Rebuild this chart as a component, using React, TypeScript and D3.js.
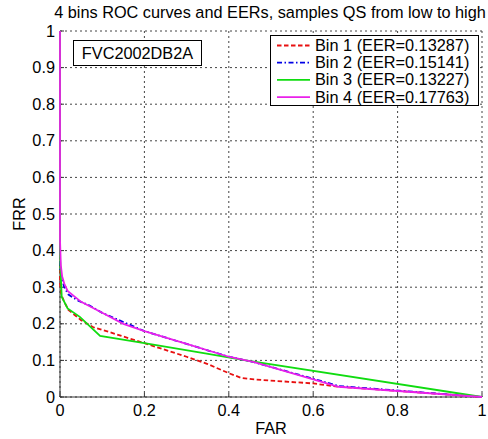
import React from "react";
import * as d3 from "d3";

const W = 488;
const H = 439;

const title = "4 bins ROC curves and EERs, samples QS from low to high";
const xLabel = "FAR";
const yLabel = "FRR";
const datasetLabel = "FVC2002DB2A";
const xTicks = [0, 0.2, 0.4, 0.6, 0.8, 1];
const yTicks = [0, 0.1, 0.2, 0.3, 0.4, 0.5, 0.6, 0.7, 0.8, 0.9, 1];
const tickLabels = (v: number) => String(v);

const seriesNames = [
  "Bin 1 (EER=0.13287)",
  "Bin 2 (EER=0.15141)",
  "Bin 3 (EER=0.13227)",
  "Bin 4 (EER=0.17763)",
];

// [FAR, FRR]
const bin1: [number, number][] = [
  [0, 1], [0, 0.31], [0.003, 0.28], [0.01, 0.26], [0.02, 0.238], [0.05, 0.21],
  [0.08, 0.19], [0.11, 0.18], [0.2, 0.147], [0.3, 0.11], [0.35, 0.09],
  [0.4, 0.065], [0.43, 0.052], [0.46, 0.048], [0.6, 0.037], [0.66, 0.028], [1, 0],
];
const bin2: [number, number][] = [
  [0, 1], [0, 0.35], [0.003, 0.33], [0.01, 0.3], [0.02, 0.28], [0.04, 0.265],
  [0.07, 0.25], [0.1, 0.23], [0.15, 0.205], [0.2, 0.18], [0.3, 0.145],
  [0.4, 0.11], [0.46, 0.095], [0.6, 0.05], [0.66, 0.03], [1, 0],
];
const bin3: [number, number][] = [
  [0, 1], [0, 0.383], [0.004, 0.274], [0.018, 0.242], [0.047, 0.219],
  [0.095, 0.167], [0.2, 0.147], [0.344, 0.119], [0.44, 0.1], [1, 0],
];
const bin4: [number, number][] = [
  [0, 1], [0, 0.43], [0.002, 0.36], [0.005, 0.33], [0.01, 0.31], [0.018, 0.29],
  [0.05, 0.26], [0.1, 0.23], [0.15, 0.2], [0.2, 0.18], [0.3, 0.145],
  [0.4, 0.11], [0.46, 0.095], [0.6, 0.048], [0.66, 0.028], [1, 0],
];

const seriesData = [bin1, bin2, bin3, bin4];
const seriesColors = ["#e81010", "#0000e6", "#10dc10", "#ea20ea"];
const seriesDash = ["4.5,2.5", "5,2.5,1.5,2.5", "", ""];

export default function App() {
  const left = 60, right = 482, top = 31, bottom = 397;
  const x = d3.scaleLinear().domain([0, 1]).range([left, right]);
  const y = d3.scaleLinear().domain([0, 1]).range([bottom, top]);
  const line = d3
    .line<[number, number]>()
    .x((d) => x(d[0]))
    .y((d) => y(d[1]));

  const font = "Liberation Sans, Arial, sans-serif";
  const fs = 16.3;
  const gridColor = "#444";
  const axisColor = "#333";

  const legX = 270, legY = 35, legW = 208, legH = 70;
  const legRow = 17.2;

  return (
    <svg
      width={W}
      height={H}
      style={{ position: "absolute", left: 0, top: 0, background: "#fff" }}
      fontFamily={font}
    >
      <rect x={0} y={0} width={W} height={H} fill="#fff" />
      {/* grid */}
      {xTicks.map((t) => (
        <line key={"gx" + t} x1={x(t)} x2={x(t)} y1={top} y2={bottom}
          stroke={gridColor} strokeWidth={1} strokeDasharray="2,3" />
      ))}
      {yTicks.map((t) => (
        <line key={"gy" + t} x1={left} x2={right} y1={y(t)} y2={y(t)}
          stroke={gridColor} strokeWidth={1} strokeDasharray="2,3" />
      ))}
      {/* axes */}
      <line x1={left} x2={right} y1={bottom} y2={bottom} stroke={axisColor} strokeWidth={1} />
      <line x1={left} x2={left} y1={top} y2={bottom} stroke={axisColor} strokeWidth={1} />
      {xTicks.map((t) => (
        <line key={"tx" + t} x1={x(t)} x2={x(t)} y1={bottom} y2={bottom - 4} stroke={axisColor} />
      ))}
      {yTicks.map((t) => (
        <line key={"ty" + t} x1={left} x2={left + 4} y1={y(t)} y2={y(t)} stroke={axisColor} />
      ))}
      {/* tick labels */}
      {xTicks.map((t) => (
        <text key={"lx" + t} x={x(t)} y={bottom + 19} fontSize={fs} textAnchor="middle" fill="#000">
          {tickLabels(t)}
        </text>
      ))}
      {yTicks.map((t) => (
        <text key={"ly" + t} x={left - 5} y={y(t) + 5.5} fontSize={fs} textAnchor="end" fill="#000">
          {tickLabels(t)}
        </text>
      ))}
      {/* curves */}
      {seriesData.map((d, i) => (
        <path key={"s" + i} d={line(d) || ""} fill="none" stroke={seriesColors[i]}
          strokeWidth={1.8} strokeDasharray={seriesDash[i] || undefined} />
      ))}
      {/* labels */}
      <text x={(left + right) / 2 - 1} y={18} fontSize={fs} textAnchor="middle" fill="#000">{title}</text>
      <text x={(left + right) / 2} y={434} fontSize={fs} textAnchor="middle" fill="#000">{xLabel}</text>
      <text transform={`translate(25,${(top + bottom) / 2}) rotate(-90)`} fontSize={fs} textAnchor="middle" fill="#000">{yLabel}</text>
      {/* dataset box */}
      <rect x={73.5} y={40.5} width={128} height={25} fill="#fff" stroke="#000" strokeWidth={1} />
      <text x={137.5} y={59} fontSize={fs} textAnchor="middle" fill="#000">{datasetLabel}</text>
      {/* legend */}
      <rect x={legX + 0.5} y={legY + 0.5} width={legW} height={legH} fill="#fff" stroke="#000" strokeWidth={1} />
      {seriesNames.map((n, i) => {
        const cy = legY + 10.5 + i * legRow;
        return (
          <g key={"leg" + i}>
            <line x1={legX + 7} x2={legX + 40} y1={cy} y2={cy} stroke={seriesColors[i]}
              strokeWidth={1.8} strokeDasharray={seriesDash[i] || undefined} />
            <text x={legX + 45} y={cy + 5.5} fontSize={fs} fill="#000">{n}</text>
          </g>
        );
      })}
    </svg>
  );
}
